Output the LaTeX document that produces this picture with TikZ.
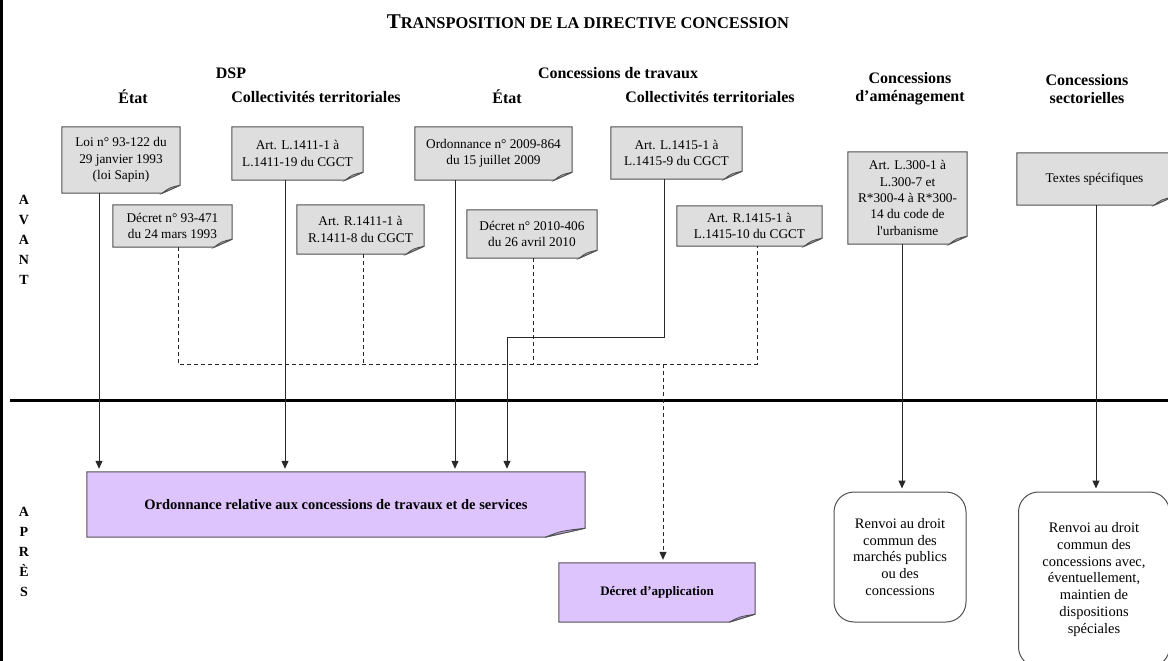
\documentclass[tikz,border=0pt]{standalone}
\usepackage{fontspec}
\setmainfont{Liberation Serif}
\newfontfamily\plainrm{Liberation Serif}[Ligatures=TeXOff]
\usetikzlibrary{arrows.meta,backgrounds,calc}
\definecolor{notegray}{RGB}{222,222,222}
\definecolor{flapgray}{RGB}{190,190,190}
\definecolor{notepurple}{RGB}{222,196,253}
\definecolor{flappurple}{RGB}{185,155,225}
\definecolor{edgegray}{RGB}{80,80,80}
\definecolor{linegray}{RGB}{40,40,40}
\begin{document}
\begin{tikzpicture}[x=1pt,y=-1pt,
  hdr/.style={font=\fontsize{16}{18}\selectfont\bfseries, inner sep=0pt, align=center},
  note/.style={inner sep=0pt, align=center, font=\fontsize{13.3}{16.3}\selectfont},
  pnote/.style={inner sep=0pt, align=center, font=\fontsize{14.5}{17}\selectfont\bfseries},
  rbox/.style={draw=edgegray, line width=1, fill=white, rounded corners=20pt, inner sep=0pt, align=center, font=\fontsize{14.5}{16.8}\selectfont},
  side/.style={font=\fontsize{14}{20}\selectfont\bfseries, inner sep=0pt, align=center},
  conn/.style={draw=linegray, line width=1},
  dconn/.style={draw=linegray, line width=1, dash pattern=on 4pt off 3pt},
  arr/.style={-{Triangle[width=7pt,length=8pt]}, shorten >=3pt}
]
\useasboundingbox (0,0) rectangle (1168,661);
\clip (0,0) rectangle (1168,661);

% title
\node[inner sep=0pt, font=\bfseries] (title) at (588,22)
  {{\fontsize{21}{21}\selectfont T}{\fontsize{16.4}{16.4}\selectfont RANSPOSITION DE LA DIRECTIVE CONCESSION}};

% headers
\node[hdr] (dsp) at (231,73) {DSP};
\node[hdr] (ctr) at (618,73) {Concessions de travaux};
\node[hdr] (e1) at (133,97) {État};
\node[hdr] (c1) at (316,97) {Collectivités territoriales};
\node[hdr] (e2) at (507,97) {État};
\node[hdr] (c2) at (710,97) {Collectivités territoriales};
\node[hdr] (cam) at (910,89) {Concessions\\d’aménagement};
\node[hdr] (cse) at (1087,89) {Concessions\\sectorielles};

% side labels
\node[side] (avant) at (24,240) {A\\V\\A\\N\\T};
\node[side] (apres) at (24,552) {A\\P\\R\\È\\S};

% separator
\draw[line width=3, black] (10,400) -- (1168,400);

% notes (gray)
\node[note, minimum width=118, minimum height=66] (b1) at (121,160) {Loi n° 93-122 du\\29 janvier 1993\\(loi Sapin)};
\node[note, minimum width=131, minimum height=53] (b2) at (297.5,153.5) {Art. L.1411-1 à\\L.1411-19 du CGCT};
\node[note, minimum width=157, minimum height=53] (b3) at (493.5,153.5) {Ordonnance n° 2009-864\\du 15 juillet 2009};
\node[note, minimum width=131, minimum height=52] (b4) at (676.5,153) {Art. L.1415-1 à\\L.1415-9 du CGCT};
\node[note, minimum width=119, minimum height=42] (b5) at (172.5,226) {Décret n° 93-471\\du 24 mars 1993};
\node[note, minimum width=127, minimum height=49] (b6) at (360.5,229.5) {Art. R.1411-1 à\\R.1411-8 du CGCT};
\node[note, minimum width=130, minimum height=48] (b7) at (532,234) {Décret n° 2010-406\\du 26 avril 2010};
\node[note, minimum width=145, minimum height=40] (b8) at (749.5,226) {Art. R.1415-1 à\\L.1415-10 du CGCT};
\node[note, minimum width=119, minimum height=92] (b9) at (907.5,198) {Art. L.300-1 à\\L.300-7 et\\R*300-4 à R*300-\\14 du code de\\{\plainrm l'urbanisme}};
\node[note, minimum width=155, minimum height=52] (b10) at (1094.5,179) {Textes spécifiques};

% purple notes
\node[pnote, minimum width=498, minimum height=65] (ord) at (336,504.5) {Ordonnance relative aux concessions de travaux et de services};
\node[pnote, font=\fontsize{13}{15}\selectfont\bfseries, minimum width=196, minimum height=59] (dec) at (657,592.5) {Décret d’application};

% rounded boxes
\node[rbox, minimum width=132, minimum height=130] (r1) at (900,557) {Renvoi au droit\\commun des\\marchés publics\\ou des\\concessions};
\node[rbox, minimum width=151, minimum height=175] (r2) at (1094,579.5) {Renvoi au droit\\commun des\\concessions avec,\\éventuellement,\\maintien de\\dispositions\\spéciales};

% note backgrounds
\begin{scope}[on background layer]
\fill[white] (0,0) rectangle (1168,661);
\fill[black] (0,0) rectangle (2.5,661);
\foreach \n/\fc/\fl/\fw/\fh in {b1/notegray/flapgray/18/8, b2/notegray/flapgray/18/8, b3/notegray/flapgray/18/8, b4/notegray/flapgray/18/8, b5/notegray/flapgray/18/8, b6/notegray/flapgray/18/8, b7/notegray/flapgray/18/8, b8/notegray/flapgray/18/8, b9/notegray/flapgray/18/8, b10/notegray/flapgray/18/8, ord/notepurple/flappurple/40/9, dec/notepurple/flappurple/26/8}{
  \filldraw[fill=\fc, draw=edgegray, line width=1]
    (\n.north west) -- (\n.north east) -- ([yshift=\fh]\n.south east)
    -- ([xshift=-\fw]\n.south east) -- (\n.south west) -- cycle;
  \filldraw[fill=\fl, draw=edgegray, line width=0.8]
    ([xshift=-\fw]\n.south east) .. controls ([xshift=-0.6*\fw,yshift=0.7*\fh]\n.south east) .. ([yshift=\fh]\n.south east)
    -- ([xshift=-0.45*\fw,yshift=0.55*\fh]\n.south east) -- cycle;
}
\end{scope}

% connector coordinates
\coordinate (p1) at ([xshift=-22]b1.south);
\coordinate (p2) at ([xshift=-12.5]b2.south);
\coordinate (p3) at ([xshift=-38.5]b3.south);
\coordinate (p4) at ([xshift=-12.5]b4.south);
\coordinate (q5) at ([xshift=5.5]b5.south);
\coordinate (q6) at ([xshift=2.5]b6.south);
\coordinate (q7) at ([xshift=1]b7.south);
\coordinate (q8) at ([xshift=7.5]b8.south);
\coordinate (p9) at ([xshift=-5.5]b9.south);
\coordinate (p10) at ([xshift=1.5]b10.south);
\coordinate (kink) at (507,337);
\coordinate (dl) at (178,364);
\coordinate (dj) at (663,364);

% solid connectors
\draw[conn,arr] (p1) -- (p1 |- ord.north);
\draw[conn,arr] (p2) -- (p2 |- ord.north);
\draw[conn,arr] (p3) -- (p3 |- ord.north);
\draw[conn,arr] (p4) |- (kink) -- (kink |- ord.north);
\draw[conn,arr] (p9) -- (p9 |- r1.north);
\draw[conn,arr] (p10) -- (p10 |- r2.north);

% dashed connectors
\draw[dconn] (q5) -- (q5 |- dl) -- (q8 |- dl) -- (q8);
\draw[dconn] (q6) -- (q6 |- dl);
\draw[dconn] (q7) -- (q7 |- dl);
\draw[dconn,arr] (dj) -- (dj |- dec.north);
\end{tikzpicture}
\end{document}
